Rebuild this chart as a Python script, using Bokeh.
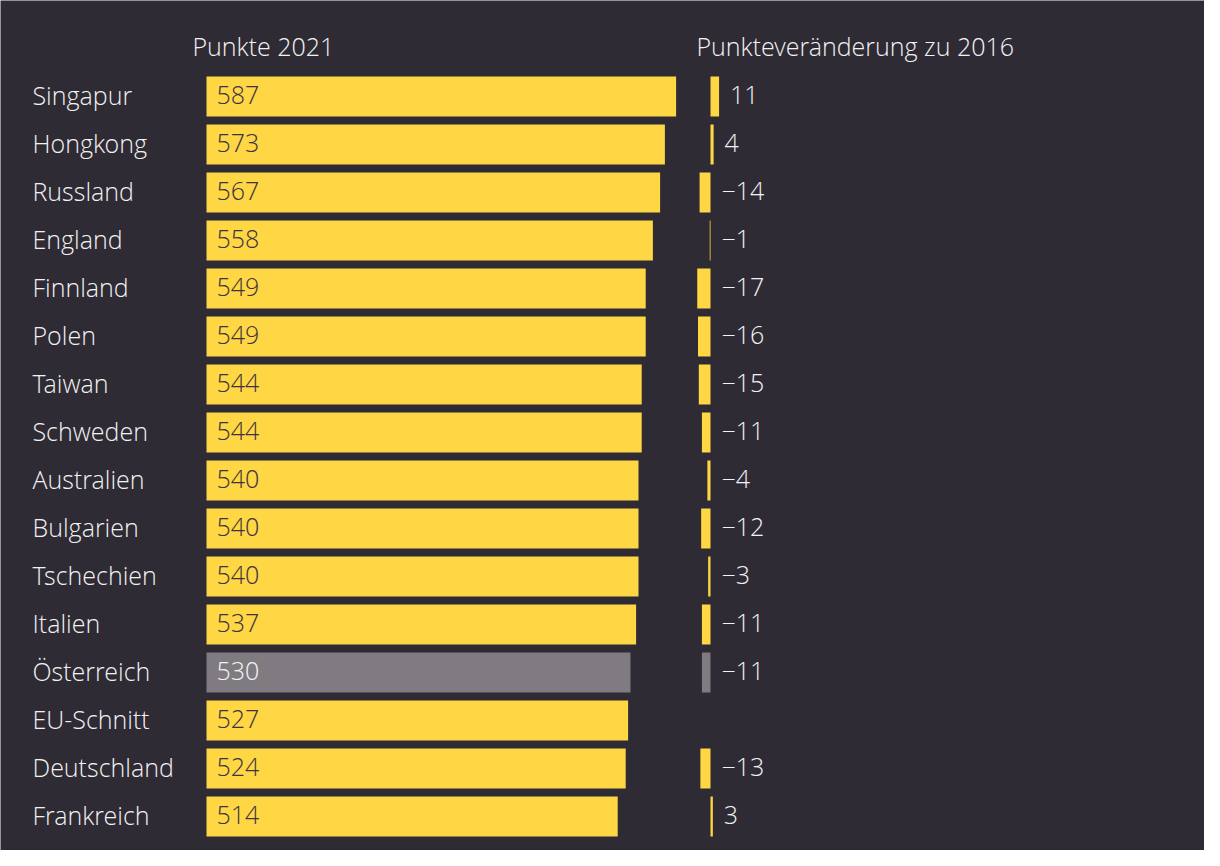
from bokeh.plotting import figure
from bokeh.models import Range1d, ColumnDataSource
from bokeh.core.properties import value
from bokeh.embed import file_html
from bokeh.resources import INLINE

countries = ["Singapur", "Hongkong", "Russland", "England", "Finnland", "Polen", "Taiwan",
             "Schweden", "Australien", "Bulgarien", "Tschechien", "Italien", "Österreich",
             "EU-Schnitt", "Deutschland", "Frankreich"]
points_2021 = [587, 573, 567, 558, 549, 549, 544, 544, 540, 540, 540, 537, 530, 527, 524, 514]
change_2016 = [11, 4, -14, -1, -17, -16, -15, -11, -4, -12, -3, -11, -11, None, -13, 3]
highlight = "Österreich"
header_left = "Punkte 2021"
header_right = "Punkteveränderung zu 2016"

BG = "#2f2b34"
YEL = "#ffd644"
GRAY = "#807b80"
DARK = "#3a3540"
WHITE = "#f2f2f2"
FONT = "Open Sans Light, Lato Light, Open Sans"
FS = "25px"

W, H = 1204, 850
PX_PT = 0.8       # px per point (left)
PX_CHG = 0.78     # px per point (right)
X0_LEFT = 206     # px of left zero
X0_RIGHT = 710    # px of right zero
ROW = 48
TOP_Y = len(countries) - 1 + 96 / ROW

n = len(countries)
ys = [n - 1 - i for i in range(n)]
fill = [GRAY if c == highlight else YEL for c in countries]
txt_col = [WHITE if c == highlight else DARK for c in countries]

src = ColumnDataSource(dict(y=ys, country=countries, pts=points_2021,
                            pts_lbl=[str(v) for v in points_2021],
                            fill=fill, txt=txt_col))

cy, cv, cf, cl, cx = [], [], [], [], []
for i, v in enumerate(change_2016):
    if v is None:
        continue
    cy.append(ys[i]); cv.append(v); cf.append(fill[i])
    cl.append(("\u2212" + str(-v)) if v < 0 else str(v))
    cx.append(max(v, 0))
csrc = ColumnDataSource(dict(y=cy, v=cv, fill=cf, lbl=cl, lx=cx))

p = figure(width=W, height=H, output_backend="svg", toolbar_location=None,
           x_range=Range1d(-X0_LEFT / PX_PT, (W - X0_LEFT) / PX_PT),
           y_range=Range1d(TOP_Y - H / ROW, TOP_Y),
           min_border=0, background_fill_color=BG, border_fill_color=BG)
p.extra_x_ranges = {"chg": Range1d(-X0_RIGHT / PX_CHG, (W - X0_RIGHT) / PX_CHG)}
p.axis.visible = False
p.grid.visible = False
p.outline_line_color = None

common = dict(text_font=value(FONT), text_font_size=FS, text_baseline="middle",
              text_align="left", y_offset=-1.5)

p.hbar(y="y", left=0, right="pts", height=40 / ROW, fill_color="fill",
       line_color=None, source=src)
p.text(x=0, y="y", text="pts_lbl", x_offset=10, text_color="txt", source=src, **common)
p.text(x=(32 - X0_LEFT) / PX_PT, y="y", text="country", text_color=WHITE,
       source=src, **common)

p.hbar(y="y", left=0, right="v", height=40 / ROW, fill_color="fill",
       line_color=None, source=csrc, x_range_name="chg")
p.text(x="lx", y="y", text="lbl", x_offset=11, text_color=WHITE,
       source=csrc, x_range_name="chg", **common)

hy = TOP_Y - 47 / ROW
p.text(x=[(192 - X0_LEFT) / PX_PT], y=[hy], text=[header_left], text_color=WHITE, **common)
p.text(x=[(696 - X0_RIGHT) / PX_CHG], y=[hy], text=[header_right], text_color=WHITE,
       x_range_name="chg", **common)

open("out.html", "w").write(file_html(p, INLINE))
